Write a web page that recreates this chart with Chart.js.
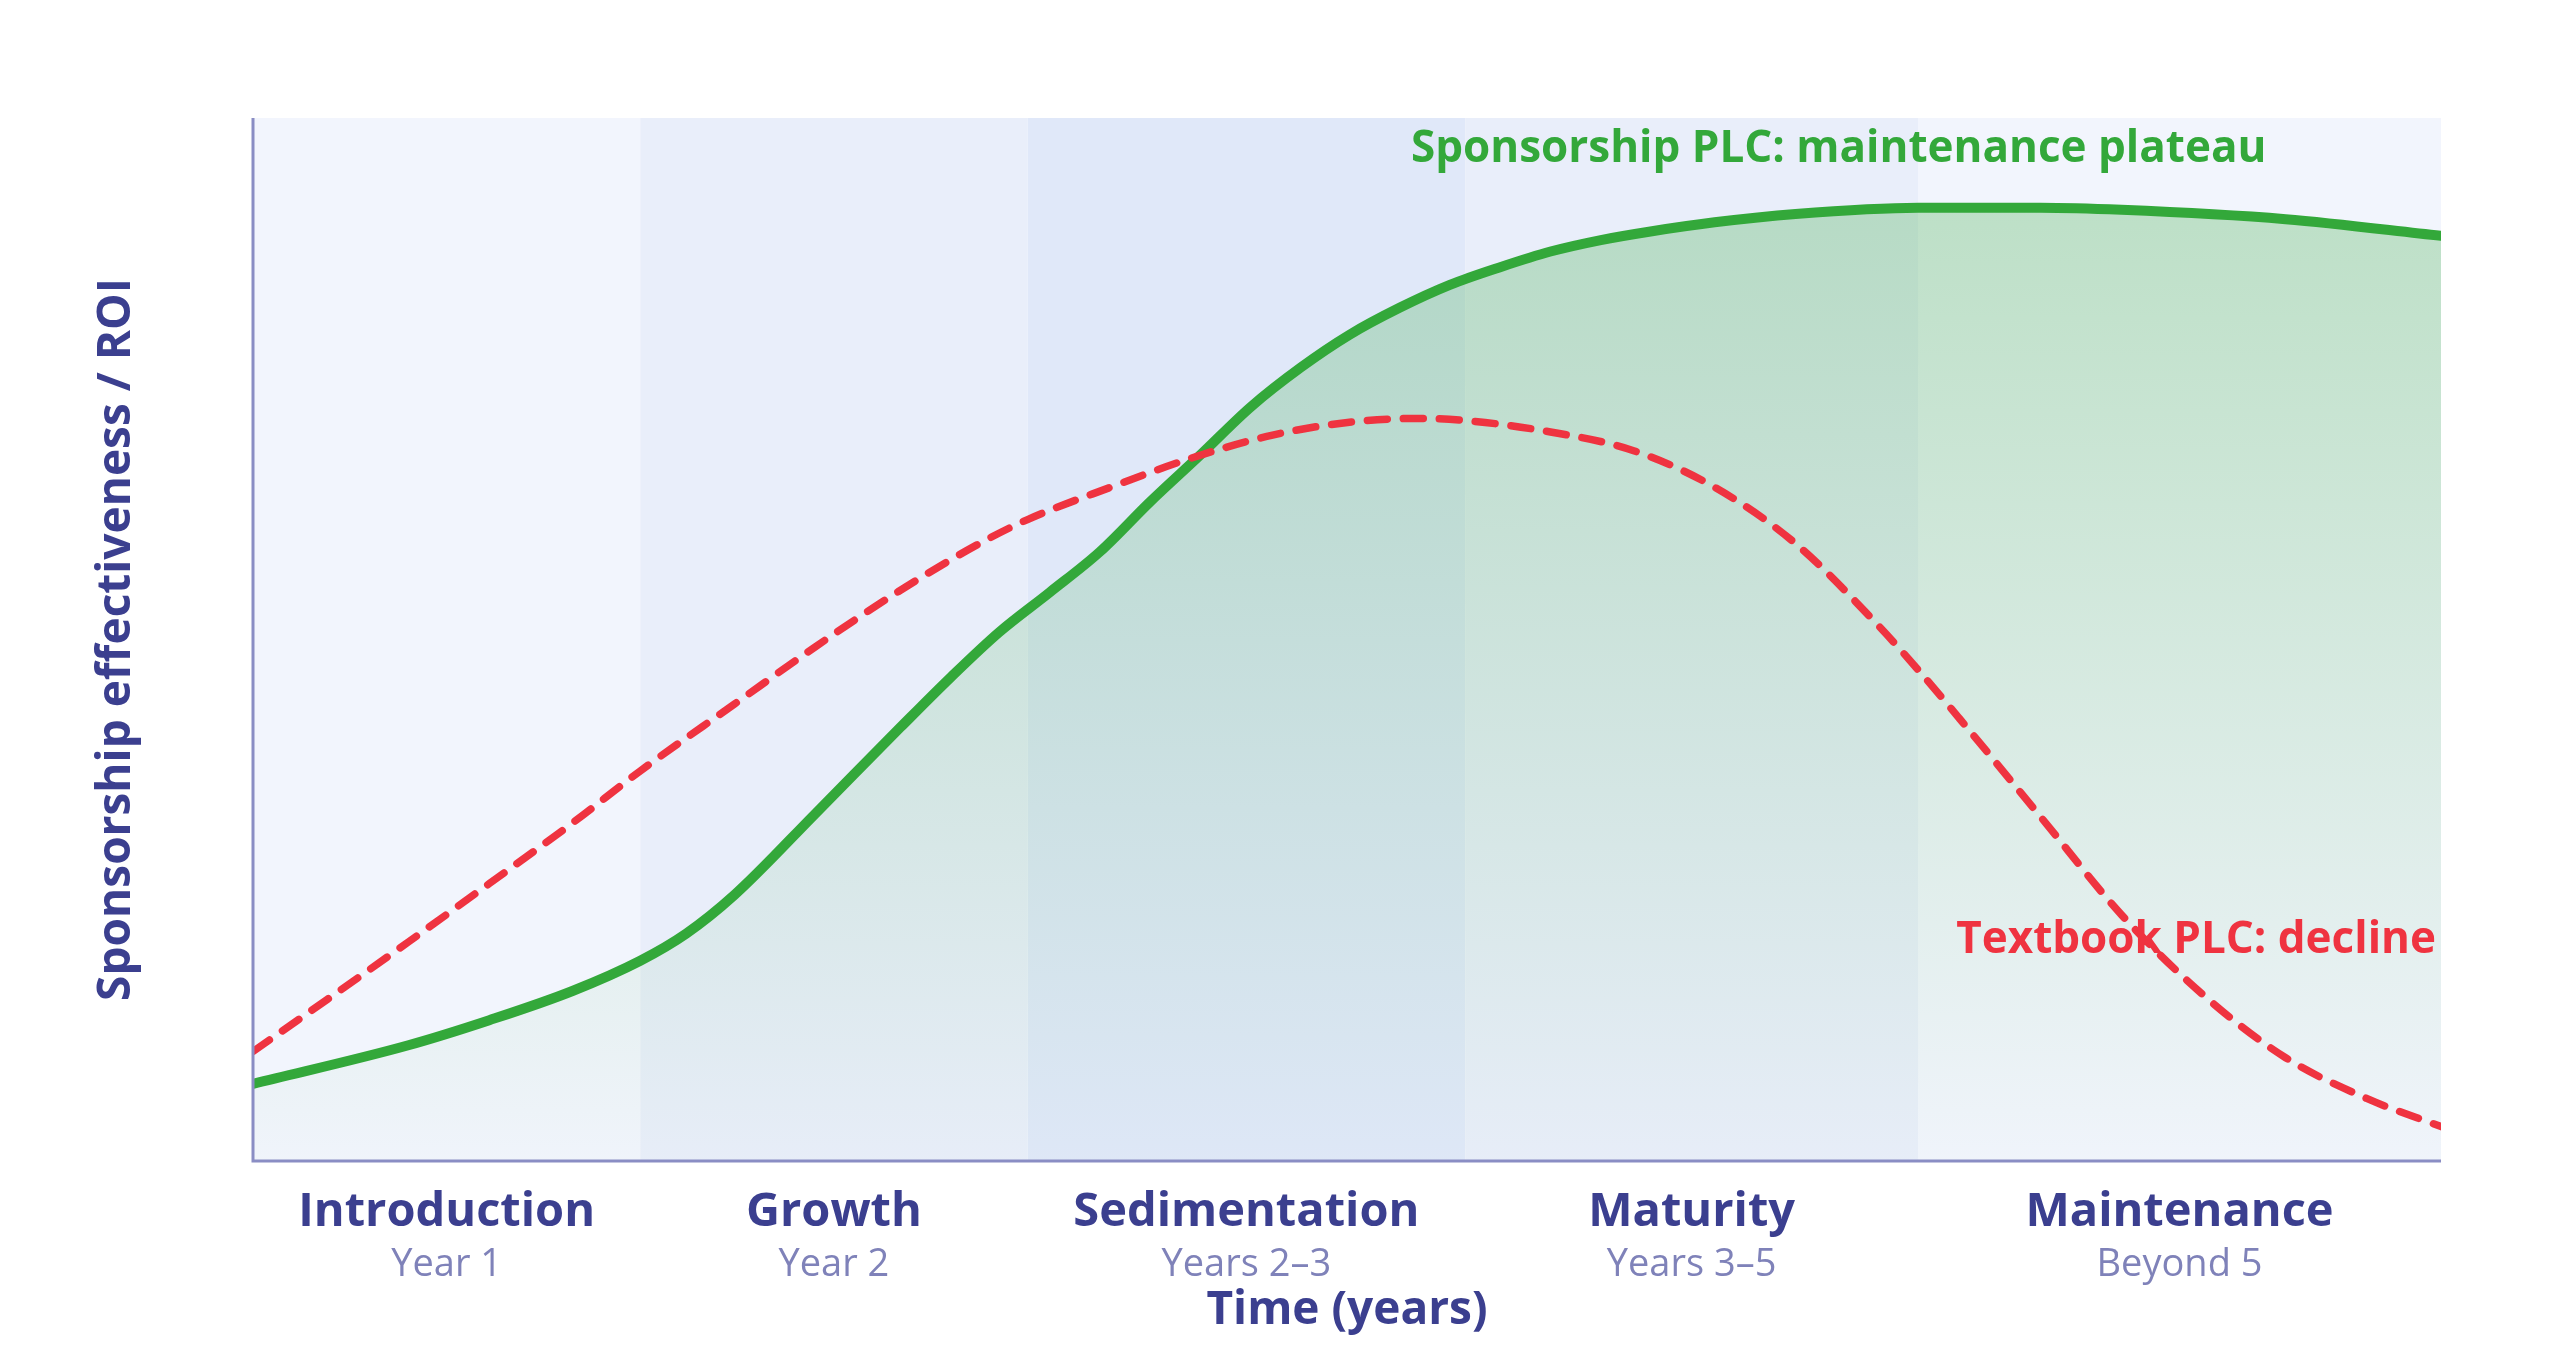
<!DOCTYPE html>
<html><head><meta charset="utf-8">
<script src="https://cdn.jsdelivr.net/npm/chart.js@4.4.0/dist/chart.umd.min.js"></script>
<style>html,body{margin:0;padding:0;background:#fff}#wrap{width:2560px;height:1347px}</style>
</head><body><div id="wrap"><canvas id="c"></canvas></div>
<script>
const stageNames = ["Introduction","Growth","Sedimentation","Maturity","Maintenance"];
const stageYears = ["Year 1","Year 2","Years 2–3","Years 3–5","Beyond 5"];
const stageBounds = [0, 17.7, 35.4, 55.4, 76.1, 100];
const stageColors = ["#f2f5fd","#e9eefa","#e0e8f9","#e9eefa","#f2f5fd"];

const sponsorX = [0, 7.1, 10.8, 14.6, 17.7, 19.8, 22.0, 25.7, 29.6, 31.9, 34.1, 36.4, 38.7, 41.0, 43.3, 45.6, 47.9, 50.1, 52.4, 54.7, 57.0, 59.3, 61.6, 63.8, 66.8, 70.5, 76.1, 81.7, 85.4, 92.9, 100];
const sponsorY = [7.4, 11.1, 13.5, 16.3, 19.2, 21.8, 25.5, 33.3, 41.6, 46.4, 50.7, 54.5, 58.4, 63.2, 67.7, 72.3, 76.1, 79.2, 81.8, 84.0, 85.7, 87.2, 88.3, 89.1, 90.0, 90.8, 91.4, 91.4, 91.2, 90.3, 88.7];

const textbookX = [0, 3.4, 7.1, 10.8, 14.6, 17.7, 22.0, 25.7, 29.5, 33.2, 35.4, 39.2, 42.9, 46.6, 50.4, 53.4, 55.4, 59.3, 63.1, 66.8, 70.5, 74.3, 76.1, 78.0, 81.7, 85.4, 89.2, 92.9, 96.6, 100];
const textbookY = [10.5, 15.5, 21.0, 26.6, 32.4, 37.4, 43.8, 49.3, 54.6, 59.2, 61.5, 64.6, 67.4, 69.6, 70.9, 71.2, 71.0, 69.9, 68.1, 64.6, 59.2, 51.3, 47.1, 42.4, 33.0, 23.6, 15.8, 9.9, 6.0, 3.3];

const titleGreen = "Sponsorship PLC: maintenance plateau";
const titleRed = "Textbook PLC: decline";
const yTitle = "Sponsorship effectiveness / ROI";
const xTitle = "Time (years)";

const NAVY = "#3b3f8f", SUB = "#7f82b9", AXIS = "#8a8dc4", GREEN = "#33a83a", RED = "#ef3340";

const decor = {
  id: 'decor',
  beforeDatasetsDraw(chart) {
    const {ctx, chartArea: a, scales: {x}} = chart;
    ctx.save();
    for (let i = 0; i < stageNames.length; i++) {
      const l = x.getPixelForValue(stageBounds[i]), r = x.getPixelForValue(stageBounds[i+1]);
      ctx.fillStyle = stageColors[i];
      ctx.fillRect(l, a.top, r - l, a.bottom - a.top);
    }
    ctx.restore();
  },
  afterDatasetsDraw(chart) {
    const {ctx, chartArea: a, scales: {x}} = chart;
    ctx.save();
    ctx.strokeStyle = AXIS; ctx.lineWidth = 3;
    ctx.beginPath();
    ctx.moveTo(a.left, a.top); ctx.lineTo(a.left, a.bottom); ctx.lineTo(a.right, a.bottom);
    ctx.stroke();
    ctx.textAlign = 'center'; ctx.textBaseline = 'middle';
    for (let i = 0; i < stageNames.length; i++) {
      const cx = (x.getPixelForValue(stageBounds[i]) + x.getPixelForValue(stageBounds[i+1])) / 2;
      ctx.fillStyle = NAVY; ctx.font = "bold 47px 'Open Sans'";
      ctx.fillText(stageNames[i], cx, a.bottom + 52);
      ctx.fillStyle = SUB; ctx.font = "38px 'Open Sans'";
      ctx.fillText(stageYears[i], cx, a.bottom + 104);
    }
    ctx.fillStyle = NAVY; ctx.font = "bold 46px 'Open Sans'";
    ctx.fillText(xTitle, (a.left + a.right) / 2, a.bottom + 150);
    ctx.save();
    ctx.translate(117, (a.top + a.bottom) / 2);
    ctx.rotate(-Math.PI / 2);
    ctx.fillText(yTitle, 0, 0);
    ctx.restore();
    ctx.fillStyle = GREEN; ctx.font = "bold 44px 'Open Sans'"; ctx.textAlign = 'left';
    ctx.fillText(titleGreen, 1411, 149);
    ctx.fillStyle = RED; ctx.textAlign = 'right';
    ctx.fillText(titleRed, 2436, 940);
    ctx.restore();
  }
};

const ctx = document.getElementById('c').getContext('2d');
new Chart(ctx, {
  type: 'line',
  data: {
    datasets: [
      {
        label: 'Sponsorship PLC',
        data: sponsorX.map((v, i) => ({x: v, y: sponsorY[i]})),
        borderColor: GREEN, borderWidth: 10, pointRadius: 0, tension: 0.4,
        cubicInterpolationMode: 'monotone', borderCapStyle: 'round',
        fill: 'origin',
        backgroundColor: (c) => {
          const a = c.chart.chartArea;
          if (!a) return 'rgba(51,168,58,0.2)';
          const g = c.chart.ctx.createLinearGradient(0, a.top, 0, a.bottom);
          g.addColorStop(0, 'rgba(51,168,58,0.30)');
          g.addColorStop(1, 'rgba(51,168,58,0.01)');
          return g;
        },
        order: 2
      },
      {
        label: 'Textbook PLC',
        data: textbookX.map((v, i) => ({x: v, y: textbookY[i]})),
        borderColor: RED, borderWidth: 7.5, pointRadius: 0, tension: 0.4,
        cubicInterpolationMode: 'monotone', borderDash: [20, 16], borderCapStyle: 'round',
        fill: false, order: 1
      }
    ]
  },
  options: {
    responsive: true, maintainAspectRatio: false, animation: false,
    layout: {padding: {left: 253, right: 119, top: 118, bottom: 186}},
    plugins: {legend: {display: false}, tooltip: {enabled: false}},
    scales: {
      x: {type: 'linear', min: 0, max: 100, display: false},
      y: {min: 0, max: 100, display: false}
    }
  },
  plugins: [decor]
});
</script></body></html>
